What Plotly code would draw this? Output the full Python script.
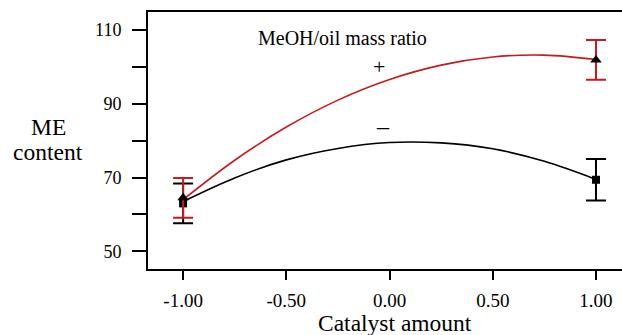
import plotly.graph_objects as go

# Fitted curve samples
curve_x = [-1.0, -0.75, -0.5, -0.25, 0.0, 0.25, 0.5, 0.75, 1.0]
plus_curve = [64.0, 74.7, 83.7, 91.0, 96.6, 100.5, 102.7, 103.2, 102.0]
minus_curve = [63.5, 69.9, 74.8, 77.9, 79.5, 79.4, 77.8, 74.4, 69.5]

# Experimental points with error bars
point_x = [-1.0, 1.0]
plus_points = [64.5, 101.9]
plus_err = [5.4, 5.4]
minus_points = [63.0, 69.4]
minus_err = [5.4, 5.6]

x_ticks = [-1.0, -0.5, 0.0, 0.5, 1.0]
x_tick_labels = ["-1.00", "-0.50", "0.00", "0.50", "1.00"]
y_ticks = [50, 60, 70, 80, 90, 100, 110]
y_tick_labels = ["50", "", "70", "", "90", "", "110"]

RED = "#c8191e"
FONT = "Liberation Serif, Times New Roman, serif"

W, H = 622, 335
L, R, T, B = 148, 0, 12, 66

fig = go.Figure()
fig.add_trace(go.Scatter(x=curve_x, y=minus_curve, mode="lines",
                         line=dict(color="black", width=1.6, shape="spline"),
                         showlegend=False, hoverinfo="skip"))
fig.add_trace(go.Scatter(x=curve_x, y=plus_curve, mode="lines",
                         line=dict(color=RED, width=1.6, shape="spline"),
                         showlegend=False, hoverinfo="skip"))
fig.add_trace(go.Scatter(x=point_x, y=minus_points, mode="markers",
                         marker=dict(symbol="square", color="black", size=8),
                         error_y=dict(type="data", array=minus_err, color="black",
                                      thickness=2, width=10),
                         showlegend=False))
fig.add_trace(go.Scatter(x=point_x, y=plus_points, mode="markers",
                         marker=dict(symbol="triangle-up", color="black", size=10),
                         error_y=dict(type="data", array=plus_err, color=RED,
                                      thickness=2, width=10),
                         showlegend=False))

pw, ph = W - L - R, H - T - B


def px(xp):
    return (xp - L) / pw


def py(yp):
    return (H - B - yp) / ph


def note(text, xp, yp, size):
    return dict(text=text, x=px(xp), y=py(yp), xref="paper", yref="paper",
                xanchor="center", yanchor="middle", showarrow=False,
                font=dict(family=FONT, size=size, color="black"))


fig.update_layout(
    width=W, height=H,
    margin=dict(l=L, r=R, t=T, b=B, autoexpand=False),
    paper_bgcolor="white", plot_bgcolor="white",
    font=dict(family=FONT, size=18, color="black"),
    xaxis=dict(range=[-1.17, 1.126], tickvals=x_ticks, ticktext=x_tick_labels,
               ticks="outside", ticklen=9, tickwidth=2, tickcolor="black",
               showline=True, linewidth=2, linecolor="black", mirror=True,
               showgrid=False, zeroline=False, ticklabelstandoff=4,
               tickfont=dict(family=FONT, size=19, color="black")),
    yaxis=dict(range=[45.2, 114.9], tickvals=y_ticks, ticktext=y_tick_labels,
               ticks="outside", ticklen=14, tickwidth=2, tickcolor="black",
               showline=True, linewidth=2, linecolor="black",
               showgrid=False, zeroline=False, ticklabelstandoff=7,
               tickfont=dict(family=FONT, size=18, color="black")),
    annotations=[
        note("MeOH/oil mass ratio", 342, 38, 20),
        note("+", 379, 66, 22),
        note("\u2013", 383, 126, 24),
        note("ME", 48, 127, 23.5),
        note("content", 48, 152, 23.5),
        note("Catalyst amount", 395, 323, 23.5),
    ],
)

fig.write_html("out.html", config={"displayModeBar": False},
               post_script="document.body.style.margin='0';")
